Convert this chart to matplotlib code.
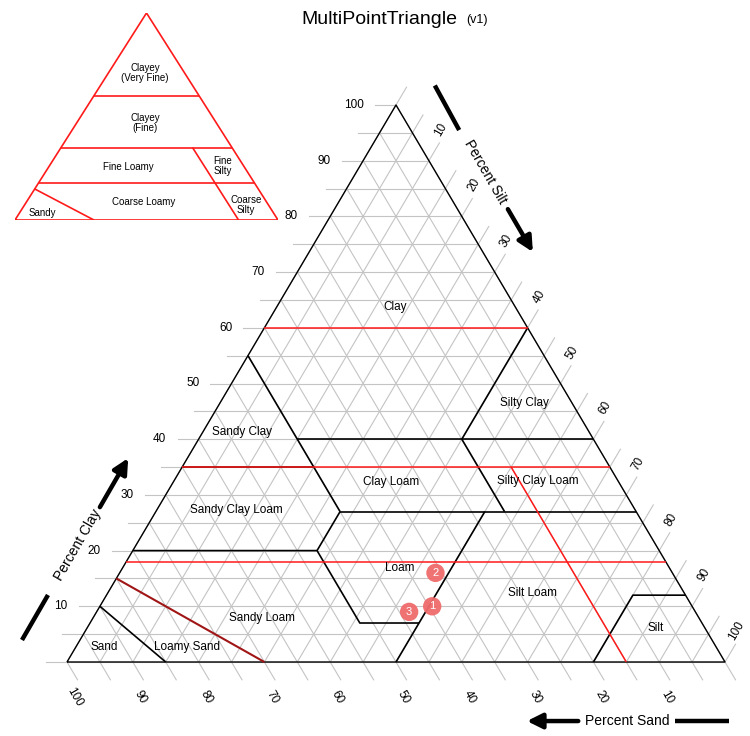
import numpy as np
import matplotlib.pyplot as plt

plt.rcParams['font.family'] = ['Liberation Sans', 'DejaVu Sans']

# ---- data (clay %, silt %) ----
point_ids = ['1', '2', '3']
point_clay = [10, 16, 9]
point_silt = [50.5, 48, 47.5]

# USDA texture class boundaries, polylines of (clay, silt)
usda_lines = [
    [(10, 0), (0, 15)],
    [(20, 0), (20, 28), (7, 41), (7, 50)],
    [(20, 28), (27, 28)],
    [(0, 50), (27, 50)],
    [(27, 28), (27, 73)],
    [(55, 0), (27, 28)],
    [(35, 0), (35, 20)],
    [(40, 15), (40, 60)],
    [(40, 40), (27, 53)],
    [(40, 40), (60, 40)],
    [(0, 80), (12, 80), (12, 88)],
]
loamy_sand_line = [(15, 0), (0, 30)]
# family particle-size class boundaries
family_lines = [
    [(60, 0), (60, 40)],
    [(35, 0), (35, 65)],
    [(18, 0), (18, 82)],
    [(35, 50), (0, 85)],
]

usda_names = ['Clay', 'Silty Clay', 'Sandy Clay', 'Clay Loam', 'Silty Clay Loam',
              'Sandy Clay Loam', 'Loam', 'Silt Loam', 'Sandy Loam', 'Silt', 'Sand',
              'Loamy Sand']
family_names = ['Clayey\n(Very Fine)', 'Clayey\n(Fine)', 'Fine Loamy', 'Fine\nSilty',
                'Coarse Loamy', 'Coarse\nSilty', 'Sandy']
tick_values = list(range(10, 101, 10))

# label positions (x, y in triangle units)
usda_pos = [(49.85, 63.7), (69.45, 46.5), (26.6, 41.3), (49.2, 32.3), (71.6, 32.5),
            (25.7, 27.3), (50.6, 16.9), (70.8, 12.4), (29.6, 7.9), (89.5, 6.1),
            (5.6, 2.7), (18.2, 2.7)]
family_pos = [(49.4, 71.0), (49.4, 46.9), (43.0, 25.6), (79.1, 26.1),
              (49.0, 8.7), (87.8, 7.2), (10.3, 3.4)]


def tern(clay, silt):
    clay = np.asarray(clay, dtype=float)
    silt = np.asarray(silt, dtype=float)
    return silt + clay / 2.0, clay


def draw_poly(ax, pts, **kw):
    c = [p[0] for p in pts]
    s = [p[1] for p in pts]
    x, y = tern(c, s)
    ax.plot(x, y, solid_capstyle='butt', **kw)


fig = plt.figure(figsize=(7.5, 7.36), dpi=100)
ax = fig.add_axes([0, 0, 1, 1])
ax.set_xlim(-67 / 6.58, (750 - 67) / 6.58)
ax.set_ylim((662 - 736) / 5.57, 662 / 5.57)
ax.axis('off')

grid_c = '#c4c4c4'
ext = 3.2
for v in range(0, 101, 5):
    # constant clay
    x, y = tern([v, v], [-ext, 100 - v])
    ax.plot(x, y, color=grid_c, lw=0.8, zorder=1)
    # constant silt
    x, y = tern([0, 100 - v + ext], [v, v])
    ax.plot(x, y, color=grid_c, lw=0.8, zorder=1)
    # constant sand
    x, y = tern([100 - v, -ext], [0, 100 - v + ext])
    ax.plot(x, y, color=grid_c, lw=0.8, zorder=1)

# outline
draw_poly(ax, [(0, 0), (0, 100), (100, 0), (0, 0)], color='black', lw=1.0, zorder=3)

for pts in usda_lines:
    draw_poly(ax, pts, color='black', lw=1.2, zorder=3)
draw_poly(ax, loamy_sand_line, color='#a01515', lw=1.5, zorder=4)
for pts in family_lines:
    draw_poly(ax, pts, color='#ff1a1a', lw=1.1, zorder=4)

# tick labels
for v in tick_values:
    x, y = tern(v, -4.9)
    ax.text(x, y, str(v), ha='right', va='center', fontsize=8.5, zorder=5)
    x, y = tern(100 - v + 5.6, v)
    ax.text(x - 1, y, str(v), ha='center', va='center', fontsize=8.5, rotation=60, zorder=5)
    x, y = tern(-6.3, 100 - v + 6.3)
    ax.text(x - 2, y, str(v), ha='center', va='center', fontsize=8.5, rotation=-60, zorder=5)

for name, (x, y) in zip(usda_names, usda_pos):
    ax.text(x, y, name, ha='center', va='center', fontsize=8.5, zorder=5)

# points
px, py = tern(point_clay, point_silt)
ax.scatter(px, py, s=175, color='#f06b6b', edgecolors='none', alpha=0.95, zorder=6)
for pid, x, y in zip(point_ids, px, py):
    ax.text(x, y, pid, color='white', ha='center', va='center', fontsize=8, zorder=7)

# axis titles with arrows
arrow_kw = dict(arrowstyle='-|>,head_width=0.45,head_length=0.9', lw=3.2, color='black',
                shrinkA=0, shrinkB=0)
ax.plot([-6.84, -2.89], [3.95, 12.03], color='black', lw=3.2, solid_capstyle='butt')
ax.text(1.6, 21.0, 'Percent Clay', rotation=60, ha='center', va='center', fontsize=10)
ax.annotate('', xy=(9.3, 36.6), xytext=(5.0, 27.8), arrowprops=arrow_kw)

ax.plot([55.9, 59.6], [103.5, 95.5], color='black', lw=3.2, solid_capstyle='butt')
ax.text(63.5, 88.0, 'Percent Silt', rotation=-60, ha='center', va='center', fontsize=10)
ax.annotate('', xy=(70.8, 73.6), xytext=(67.0, 81.3), arrowprops=arrow_kw)

ax.annotate('', xy=(69.9, -10.6), xytext=(77.7, -10.6), arrowprops=arrow_kw)
ax.text(85.1, -10.6, 'Percent Sand', ha='center', va='center', fontsize=10)
ax.plot([92.4, 100.6], [-10.6, -10.6], color='black', lw=3.2, solid_capstyle='butt')

# title
fig.text(379 / 750, 1 - 23.5 / 736, 'MultiPointTriangle', ha='center', va='baseline', fontsize=14)
fig.text(466 / 750, 1 - 23.5 / 736, '(v1)', ha='left', va='baseline', fontsize=9)

# inset family triangle
ins = fig.add_axes([15 / 750, (736 - 220) / 736, 263 / 750, 207 / 736])
ins.set_xlim(0, 100)
ins.set_ylim(0, 100)
ins.axis('off')
draw_poly(ins, [(0, 0), (0, 100), (100, 0), (0, 0)], color='#ff1a1a', lw=1.2)
for pts in family_lines + [loamy_sand_line]:
    draw_poly(ins, pts, color='#ff1a1a', lw=1.2)
for name, (x, y) in zip(family_names, family_pos):
    ins.text(x, y, name, ha='center', va='center', fontsize=7, linespacing=1.0)

fig.savefig('out.png', dpi=100)
